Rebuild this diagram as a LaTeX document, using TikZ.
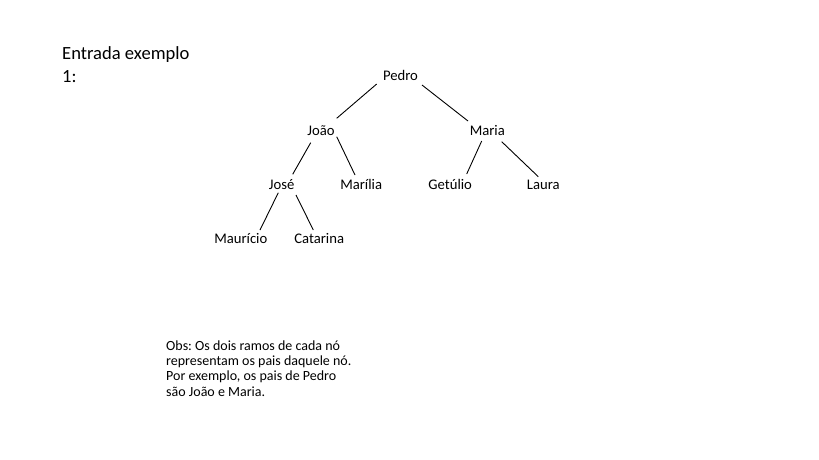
\documentclass[tikz,border=0pt]{standalone}
\usepackage{fontspec}
\setmainfont{Carlito}
\frenchspacing
\usetikzlibrary{calc}
\tikzset{
    pessoa/.style={black, font=\fontsize{14.67}{17.6}\selectfont, inner sep=0pt, anchor=base},
    ramo/.style={black, line width=0.9pt}
}
\begin{document}
\begin{tikzpicture}[x=1pt, y=-1pt]
    \useasboundingbox[fill=white] (0,0) rectangle (819,460);
    %
    \node[black, anchor=base west, align=left, inner sep=0pt, font=\fontsize{18.6}{23}\selectfont] (titulo) at (62,82.3) {Entrada exemplo\\1:};
    %
    \node[pessoa] (pedro) at (400.5,81) {Pedro};
    \node[pessoa] (joao) at (321,135.5) {João};
    \node[pessoa] (maria) at (487.3,135.5) {Maria};
    \node[pessoa] (jose) at (281.7,189.5) {José};
    \node[pessoa] (marilia) at (361.2,189.5) {Marília};
    \node[pessoa] (getulio) at (450.2,189.5) {Getúlio};
    \node[pessoa] (laura) at (543.3,189.5) {Laura};
    \node[pessoa] (mauricio) at (240.8,243) {Maurício};
    \node[pessoa] (catarina) at (319.2,243) {Catarina};
    %
    \draw[ramo] ([shift={(-23.8,3)}]pedro.base) -- ([shift={(15.7,-17.2)}]joao.base);
    \draw[ramo] ([shift={(21.5,4)}]pedro.base) -- ([shift={(-19.3,-14.5)}]maria.base);
    \draw[ramo] ([shift={(-10.3,7.2)}]joao.base) -- ([shift={(11,-15.2)}]jose.base);
    \draw[ramo] ([shift={(15.7,1.2)}]joao.base) -- ([shift={(-6.2,-14.5)}]marilia.base);
    \draw[ramo] ([shift={(-5.6,5.5)}]maria.base) -- ([shift={(16.5,-15.5)}]getulio.base);
    \draw[ramo] ([shift={(14.4,6.2)}]maria.base) -- ([shift={(-5,-12.8)}]laura.base);
    \draw[ramo] ([shift={(-3.4,3.2)}]jose.base) -- ([shift={(19.2,-13)}]mauricio.base);
    \draw[ramo] ([shift={(14.3,5.5)}]jose.base) -- ([shift={(-5.9,-13)}]catarina.base);
    %
    \node[black, anchor=base west, align=left, inner sep=0pt, font=\fontsize{14}{15.3}\selectfont] (obs) at (166,396) {Obs: Os dois ramos de cada nó\\representam os pais daquele nó.\\Por exemplo, os pais de Pedro\\são João e Maria.};
\end{tikzpicture}
\end{document}
